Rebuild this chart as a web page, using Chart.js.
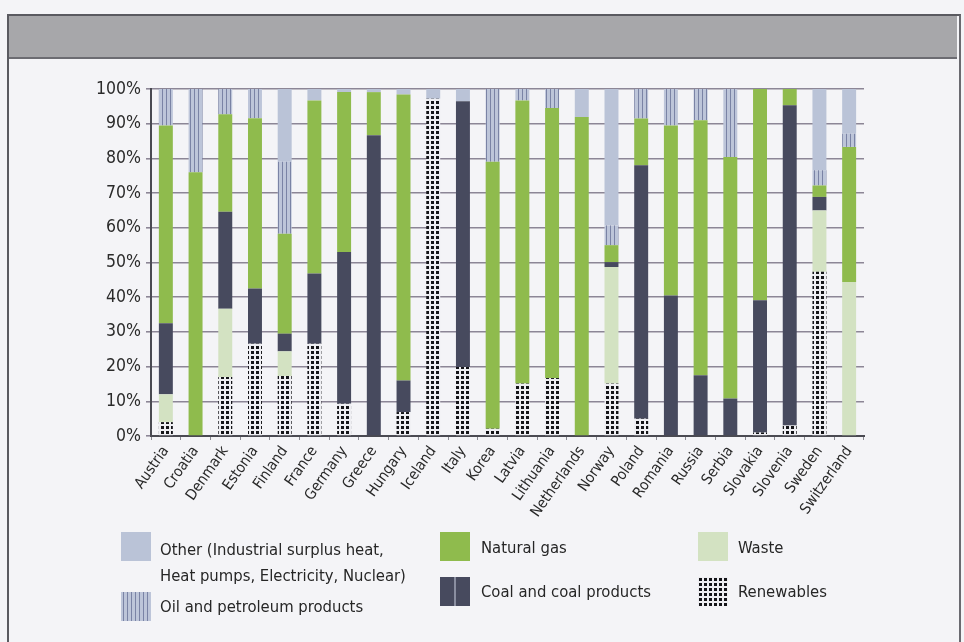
<!DOCTYPE html>
<html>
<head>
<meta charset="utf-8">
<script src="https://cdn.jsdelivr.net/npm/chart.js@4/dist/chart.umd.min.js"></script>
<style>
  html, body { margin: 0; padding: 0; }
  body { width: 964px; height: 642px; background: #f4f4f7; position: relative; overflow: hidden;
         font-family: "DejaVu Sans Condensed", Arial, sans-serif; color: #262626; }
  #frame { position: absolute; left: 7px; top: 14px; width: 950px; height: 640px;
           border-left: 2px solid #5a5a60; border-top: 2px solid #5a5a60; border-right: 2px solid #6a6a70; }
  #header { position: absolute; left: 9px; top: 16px; width: 948px; height: 41px;
            background: #a7a7aa; border-bottom: 2px solid #6c6c72; }
  #wrap { position: absolute; left: 0; top: 0; width: 964px; height: 642px; }
  .lg { position: absolute; font-size: 16.5px; line-height: 26px; color: #262626; white-space: nowrap; }
  .sw { position: absolute; width: 30px; height: 29px; }
</style>
</head>
<body>
<div id="frame"></div>
<div id="header"></div>
<div id="wrap"><canvas id="c" width="964" height="642"></canvas></div>

<div class="sw" id="sw-other" style="left:121px;top:532px;"></div>
<div class="lg" style="left:160px;top:537px;">Other (Industrial surplus heat,<br>Heat pumps, Electricity, Nuclear)</div>
<div class="sw" id="sw-oil" style="left:121px;top:592px;"></div>
<div class="lg" style="left:160px;top:594px;">Oil and petroleum products</div>

<div class="sw" id="sw-gas" style="left:440px;top:532px;"></div>
<div class="lg" style="left:481px;top:535px;">Natural gas</div>
<div class="sw" id="sw-coal" style="left:440px;top:577px;"></div>
<div class="lg" style="left:481px;top:579px;">Coal and coal products</div>

<div class="sw" id="sw-waste" style="left:698px;top:532px;"></div>
<div class="lg" style="left:738px;top:535px;">Waste</div>
<div class="sw" id="sw-ren" style="left:698px;top:577px;"></div>
<div class="lg" style="left:738px;top:579px;">Renewables</div>

<script>
// Countries along the x axis
const countries = ["Austria", "Croatia", "Denmark", "Estonia", "Finland", "France", "Germany",
  "Greece", "Hungary", "Iceland", "Italy", "Korea", "Latvia", "Lithuania", "Netherlands",
  "Norway", "Poland", "Romania", "Russia", "Serbia", "Slovakia", "Slovenia", "Sweden", "Switzerland"];

// Share of each fuel in heat production, % (stacked bottom to top)
const renewables = [4, 0, 17, 26.6, 17.3, 26.6, 9.3, 0, 6.9, 97.2, 19.9, 2.1, 15.1, 16.7, 0, 15.1, 5, 0, 0, 0, 1, 3, 47.3, 0];
const waste      = [8, 0, 19.7, 0, 7.1, 0, 0, 0, 0, 0, 0, 0, 0, 0, 0, 33.6, 0, 0, 0, 0, 0, 0, 17.7, 44.4];
const coal       = [20.5, 0, 27.9, 15.9, 5.1, 20.2, 43.7, 86.7, 9.1, 0, 76.6, 0, 0, 0, 0, 1.4, 73, 40.5, 17.5, 10.8, 38.1, 92.3, 3.9, 0];
const naturalGas = [57, 76, 28.1, 49.1, 28.8, 49.9, 46.1, 12.4, 82.4, 0, 0, 76.9, 81.6, 77.8, 91.9, 4.9, 13.5, 49, 73.5, 69.6, 60.9, 4.7, 3.3, 38.9];
const oil        = [10.5, 24, 7.3, 8.4, 20.7, 0, 0, 0, 0, 0, 0, 21, 3.3, 5.5, 0, 5.7, 8.5, 10.5, 9, 19.6, 0, 0, 4.4, 3.8];
const other      = [0, 0, 0, 0, 21, 3.3, 0.9, 0.9, 1.6, 2.8, 3.5, 0, 0, 0, 8.1, 39.3, 0, 0, 0, 0, 0, 0, 23.4, 12.9];

// Y axis ticks
const yTicks = [0, 10, 20, 30, 40, 50, 60, 70, 80, 90, 100];

const FONT = '"DejaVu Sans Condensed", Arial, sans-serif';

const canvas = document.getElementById('c');
const ctx = canvas.getContext('2d');

function tile(w, h, draw) {
  const t = document.createElement('canvas');
  t.width = w; t.height = h;
  draw(t.getContext('2d'));
  return { pattern: ctx.createPattern(t, 'repeat'), url: t.toDataURL() };
}

// vertical pinstripes for oil
const oilTile = tile(4, 4, g => {
  g.fillStyle = '#bdc5d9'; g.fillRect(0, 0, 4, 4);
  g.fillStyle = '#7a83a5'; g.fillRect(2, 0, 1, 4);
});
// dark dot grid for renewables
const renTile = tile(5, 5, g => {
  g.fillStyle = '#eeeef2'; g.fillRect(0, 0, 5, 5);
  g.fillStyle = '#141418'; g.fillRect(1, 1, 3, 3);
});

const C_OTHER = '#bac3d7', C_GAS = '#8fbb4d', C_COAL = '#474a5e', C_WASTE = '#d3e2c2';

document.getElementById('sw-other').style.background = C_OTHER;
document.getElementById('sw-gas').style.background = C_GAS;
document.getElementById('sw-waste').style.background = C_WASTE;
document.getElementById('sw-coal').style.background = 'linear-gradient(90deg,' + C_COAL + ' 0 47%, #8a8ea0 47% 53%, ' + C_COAL + ' 53% 100%)';
document.getElementById('sw-oil').style.background = 'url(' + oilTile.url + ')';
document.getElementById('sw-ren').style.background = 'url(' + renTile.url + ')';

const ds = (label, data, bg) => ({ label, data, backgroundColor: bg, borderWidth: 0,
  barPercentage: 0.94, categoryPercentage: 0.5 });

new Chart(ctx, {
  type: 'bar',
  data: {
    labels: countries,
    datasets: [
      ds('Renewables', renewables, renTile.pattern),
      ds('Waste', waste, C_WASTE),
      ds('Coal and coal products', coal, C_COAL),
      ds('Natural gas', naturalGas, C_GAS),
      ds('Oil and petroleum products', oil, oilTile.pattern),
      ds('Other (Industrial surplus heat, Heat pumps, Electricity, Nuclear)', other, C_OTHER)
    ]
  },
  options: {
    responsive: false,
    animation: false,
    layout: { padding: { left: 88, right: 100, top: 89, bottom: 100 } },
    plugins: { legend: { display: false }, tooltip: { enabled: false } },
    scales: {
      x: {
        stacked: true,
        offset: true,
        grid: { display: true, drawOnChartArea: false, drawTicks: true, tickLength: 4, color: '#8a8a92', offset: true },
        border: { display: true, color: '#4a4a52', width: 2 },
        ticks: { minRotation: 55, maxRotation: 55, autoSkip: false, padding: 3,
                 color: '#2a2a2a', font: { family: FONT, size: 15 } },
        afterFit: s => { s.height = 106; }
      },
      y: {
        stacked: true,
        min: 0, max: 100,
        afterBuildTicks: s => { s.ticks = yTicks.map(v => ({ value: v })); },
        grid: { color: '#8c8696', lineWidth: 1.6, tickLength: 5, drawTicks: true },
        border: { display: true, color: '#4a4a52', width: 2 },
        ticks: { padding: 5, color: '#2a2a2a', font: { family: FONT, size: 17.5 },
                 callback: v => v + '%' },
        afterFit: s => { s.width = 63; }
      }
    }
  }
});
</script>
</body>
</html>
